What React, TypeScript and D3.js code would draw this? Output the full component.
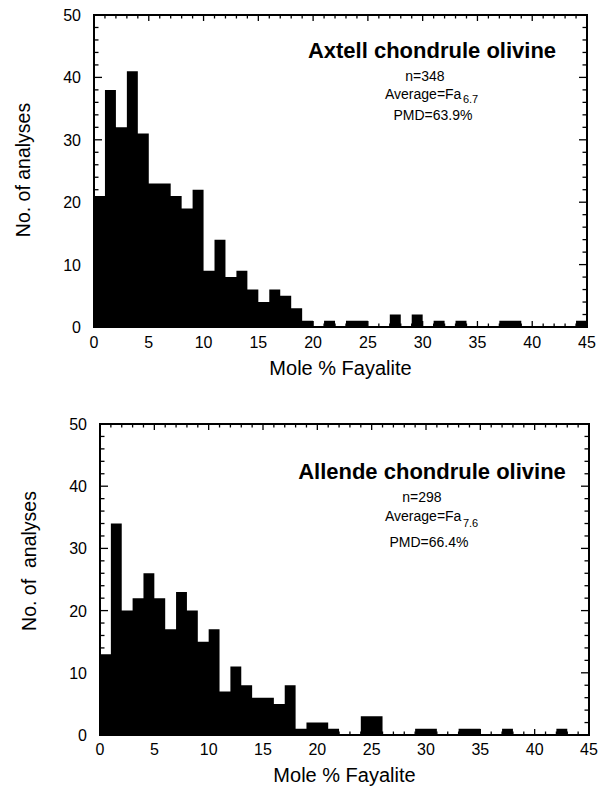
import React from 'react';
import * as d3 from 'd3';

// counts per 1 mol% Fa bin (0-1, 1-2, ... 44-45)
const axtellCounts = [
  21, 38, 32, 41, 31, 23, 23, 21, 19, 22,
  9, 14, 8, 9, 6, 4, 6, 5, 3, 1,
  0, 1, 0, 1, 1, 0, 0, 2, 0, 2,
  0, 1, 0, 1, 0, 0, 0, 1, 1, 0,
  0, 0, 0, 0, 1,
];
const allendeCounts = [
  13, 34, 20, 22, 26, 22, 17, 23, 20, 15,
  17, 7, 11, 8, 6, 6, 5, 8, 1, 2,
  2, 1, 0, 0, 3, 3, 0, 0, 0, 1,
  1, 0, 0, 1, 1, 0, 0, 1, 0, 0,
  0, 0, 1, 0, 0,
];
const xTickLabels = [0, 5, 10, 15, 20, 25, 30, 35, 40, 45];
const yTickLabels = [0, 10, 20, 30, 40, 50];

const FONT = '"Liberation Sans", Arial, Helvetica, sans-serif';

type Frame = { left: number; right: number; top: number; bottom: number };

type HistProps = {
  counts: number[];
  frame: Frame;
  title: string;
  n: string;
  avg: string;
  pmd: string;
  text: { cx: number; titleY: number; nX: number; nY: number; avgX: number; avgY: number; pmdX: number; pmdY: number; subDy: number };
  tickLabelY: number;
  xTitleY: number;
  yTitleX: number;
  yTitleY: number;
  yTitle: string;
};

function Histogram(props: HistProps) {
  const { counts, frame, text } = props;
  const x = d3.scaleLinear().domain([0, 45]).range([frame.left, frame.right]);
  const y = d3.scaleLinear().domain([0, 50]).range([frame.bottom, frame.top]);

  // step area, one bin per mol%
  const pts = counts.map((c, i) => ({ bin: i, c }));
  pts.push({ bin: counts.length, c: counts[counts.length - 1] });
  const area = d3
    .area<{ bin: number; c: number }>()
    .x((d) => x(d.bin))
    .y0(y(0))
    .y1((d) => y(d.c))
    .curve(d3.curveStepAfter);

  const xMinor = d3.range(0, 46, 1);
  const yMinor = d3.range(0, 51, 2);

  return (
    <g>
      <path d={area(pts) || ''} fill="#000" />

      {/* frame */}
      <rect
        x={frame.left}
        y={frame.top}
        width={frame.right - frame.left}
        height={frame.bottom - frame.top}
        fill="none"
        stroke="#000"
        strokeWidth={2}
      />

      {/* ticks, all pointing inward */}
      {xMinor.map((v) => {
        const len = v % 5 === 0 ? 6 : 3.5;
        return (
          <g key={'xt' + v}>
            <line x1={x(v)} x2={x(v)} y1={frame.top} y2={frame.top + len} stroke="#000" strokeWidth={1.3} />
            <line x1={x(v)} x2={x(v)} y1={frame.bottom} y2={frame.bottom - len} stroke="#000" strokeWidth={1.3} />
          </g>
        );
      })}
      {yMinor.map((v) => {
        const len = v % 10 === 0 ? 8 : 4.5;
        return (
          <g key={'yt' + v}>
            <line x1={frame.left} x2={frame.left + len} y1={y(v)} y2={y(v)} stroke="#000" strokeWidth={1.3} />
            <line x1={frame.right} x2={frame.right - len} y1={y(v)} y2={y(v)} stroke="#000" strokeWidth={1.3} />
          </g>
        );
      })}

      {xTickLabels.map((v) => (
        <text key={'xl' + v} x={x(v)} y={props.tickLabelY} textAnchor="middle" fontSize={16} fontFamily={FONT}>
          {v}
        </text>
      ))}
      {yTickLabels.map((v) => (
        <text key={'yl' + v} x={frame.left - 13} y={y(v) + 6} textAnchor="end" fontSize={16} fontFamily={FONT}>
          {v}
        </text>
      ))}

      <text x={(frame.left + frame.right) / 2} y={props.xTitleY} textAnchor="middle" fontSize={20} fontFamily={FONT}>
        Mole % Fayalite
      </text>
      <text
        transform={`translate(${props.yTitleX},${props.yTitleY}) rotate(-90)`}
        textAnchor="middle"
        fontSize={19.5}
        fontFamily={FONT}
        style={{ whiteSpace: 'pre' }}
      >
        {props.yTitle}
      </text>

      <text x={text.cx} y={text.titleY} textAnchor="middle" fontSize={22} fontWeight="bold" fontFamily={FONT}>
        {props.title}
      </text>
      <text x={text.nX} y={text.nY} textAnchor="middle" fontSize={14} fontFamily={FONT}>
        {props.n}
      </text>
      <text x={text.avgX} y={text.avgY} fontSize={14} fontFamily={FONT}>
        Average=Fa
        <tspan dx={1.5} dy={text.subDy} fontSize={11}>
          {props.avg}
        </tspan>
      </text>
      <text x={text.pmdX} y={text.pmdY} textAnchor="middle" fontSize={14} fontFamily={FONT}>
        {props.pmd}
      </text>
    </g>
  );
}

export default function App() {
  return (
    <svg width={598} height={786} style={{ display: 'block', position: 'absolute', left: 0, top: 0 }}>
      <rect width={598} height={786} fill="#fff" />
      <Histogram
        counts={axtellCounts}
        frame={{ left: 94, right: 587, top: 15, bottom: 327 }}
        title="Axtell chondrule olivine"
        n="n=348"
        avg="6.7"
        pmd="PMD=63.9%"
        text={{ cx: 432, titleY: 58, nX: 425, nY: 81, avgX: 385, avgY: 99, pmdX: 433, pmdY: 120, subDy: 4 }}
        tickLabelY={348}
        xTitleY={375}
        yTitleX={30}
        yTitleY={170}
        yTitle="No. of analyses"
      />
      <Histogram
        counts={allendeCounts}
        frame={{ left: 100, right: 589, top: 424, bottom: 735 }}
        title="Allende chondrule olivine"
        n="n=298"
        avg="7.6"
        pmd="PMD=66.4%"
        text={{ cx: 432, titleY: 479, nX: 422, nY: 502, avgX: 385, avgY: 521, pmdX: 429, pmdY: 547, subDy: 6 }}
        tickLabelY={755}
        xTitleY={782}
        yTitleX={36}
        yTitleY={561}
        yTitle="No. of  analyses"
      />
    </svg>
  );
}
